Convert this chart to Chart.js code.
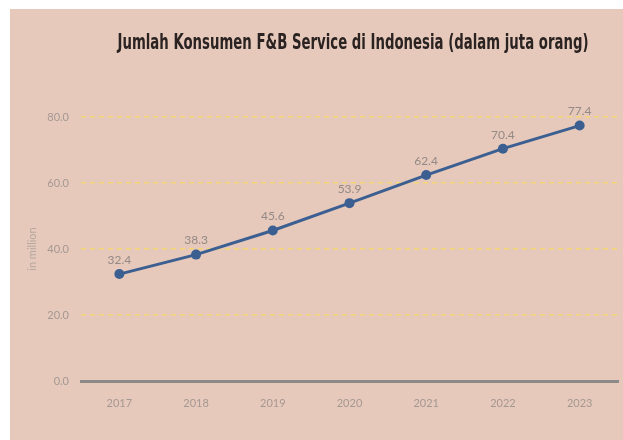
<!DOCTYPE html>
<html>
<head>
<meta charset="utf-8">
<script src="https://cdn.jsdelivr.net/npm/chart.js@4.4.0/dist/chart.umd.min.js"></script>
<style>
  html, body { margin: 0; padding: 0; background: #ffffff; }
  #wrap { position: absolute; left: 10px; top: 9px; width: 613px; height: 431px; background: #e6c9bb; }
</style>
</head>
<body>
<div id="wrap"><canvas id="chart" width="613" height="431"></canvas></div>
<script>
// data
const years = ['2017', '2018', '2019', '2020', '2021', '2022', '2023'];
const konsumen = [32.4, 38.3, 45.6, 53.9, 62.4, 70.4, 77.4];
const yTicks = [0, 20, 40, 60, 80];
const judul = 'Jumlah Konsumen F&B Service di Indonesia (dalam juta orang)';

// judul di atas area chart, dipadatkan ke lebar ~471px
const titlePlugin = {
    id: 'judulChart',
    afterDraw(chart) {
        const { ctx, chartArea } = chart;
        ctx.save();
        ctx.font = 'bold 22px "DejaVu Sans", sans-serif';
        ctx.fillStyle = '#2b2321';
        ctx.textAlign = 'center';
        ctx.textBaseline = 'alphabetic';
        const w = ctx.measureText(judul).width;
        ctx.translate(343, 40);
        ctx.scale(471 / w, 1);
        ctx.fillText(judul, 0, 0);
        ctx.restore();
    }
};

// label nilai di atas titik
const valueLabels = {
    id: 'valueLabels',
    afterDatasetsDraw(chart) {
        const { ctx } = chart;
        const meta = chart.getDatasetMeta(0);
        ctx.save();
        ctx.font = '12px Lato, sans-serif';
        ctx.fillStyle = '#948985';
        ctx.textAlign = 'center';
        ctx.textBaseline = 'middle';
        meta.data.forEach((pt, i) => {
            ctx.fillText(konsumen[i].toFixed(1), pt.x, pt.y - 14);
        });
        ctx.restore();
    }
};

const ctx = document.getElementById('chart').getContext('2d');
const chart = new Chart(ctx, {
    type: 'line',
    data: {
        labels: years,
        datasets: [{
            data: konsumen,
            borderColor: '#3c5f92',
            backgroundColor: '#3c5f92',
            borderWidth: 3,
            pointRadius: 5,
            pointBackgroundColor: '#3c5f92',
            pointBorderWidth: 0,
            tension: 0,
            clip: false
        }]
    },
    options: {
        responsive: false,
        animation: false,
        events: [],
        layout: { padding: { top: 108, left: 0, right: -6, bottom: 0 } },
        plugins: {
            legend: { display: false },
            tooltip: { enabled: false }
        },
        scales: {
            x: {
                offset: true,
                grid: { display: false },
                border: { display: true, color: '#8e8a8a', width: 3 },
                ticks: {
                    color: '#a59893',
                    font: { family: 'Lato', size: 11 },
                    padding: 8,
                    maxRotation: 0
                },
                afterFit(scale) {
                    scale.height = 59;
                    scale.paddingLeft = 0;
                    scale.paddingRight = 0;
                }
            },
            y: {
                min: 0,
                max: 80,
                afterBuildTicks(scale) { scale.ticks = yTicks.map(v => ({ value: v })); },
                grid: {
                    color: c => c.tick && c.tick.value === 0 ? 'rgba(0,0,0,0)' : '#f4d677',
                    lineWidth: 1.5,
                    drawTicks: false
                },
                border: { display: false, dash: [5, 4] },
                ticks: {
                    color: '#a59893',
                    font: { family: 'Lato', size: 11 },
                    padding: 12,
                    callback: v => v.toFixed(1)
                },
                title: {
                    display: true,
                    text: 'in million',
                    color: '#b6a7a0',
                    font: { family: 'Lato', size: 11 },
                    padding: { top: 16, bottom: 0 }
                },
                afterFit(scale) { scale.width = 71; }
            }
        }
    },
    plugins: [titlePlugin, valueLabels]
});
</script>
</body>
</html>
